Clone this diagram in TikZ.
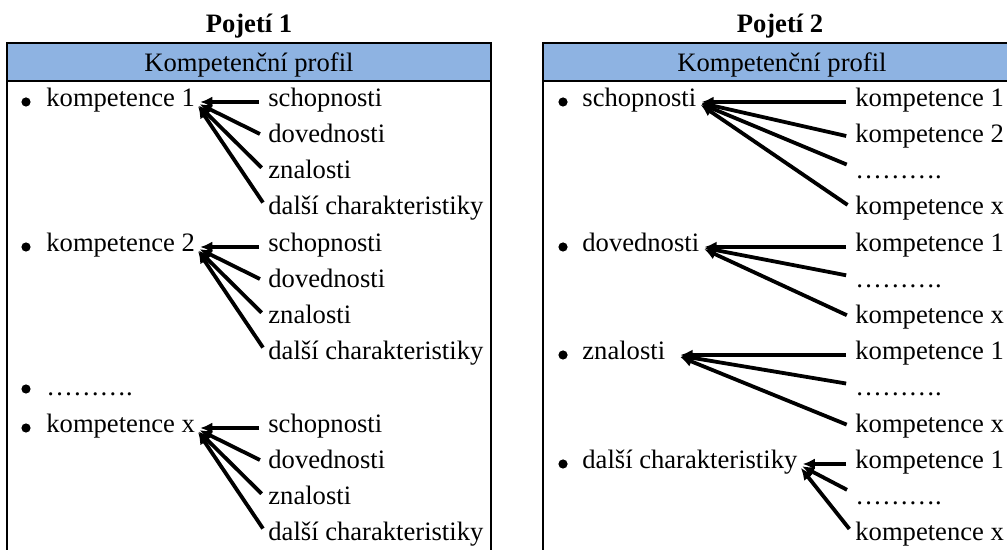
\documentclass[tikz,border=0pt]{standalone}
\usepackage{fontspec}
\setmainfont{Liberation Serif}
\usetikzlibrary{arrows.meta, positioning}

\definecolor{headblue}{RGB}{142,179,226}

\begin{document}
\begin{tikzpicture}[
    x=0.5pt, y=-0.5pt,
    font=\fontsize{13.3}{16}\selectfont,
    boxline/.style={draw, line width=1.2pt},
    heading/.style={anchor=base, font=\fontsize{13.3}{16}\selectfont\bfseries},
    item/.style={anchor=mid west, inner sep=0pt},
    dot/.style={circle, fill, inner sep=0pt, minimum size=4.6pt},
    arrow/.style={-{Latex[length=6pt,width=5.5pt]}, line width=1.9pt, shorten <=4.5pt, shorten >=2.5pt}
]
    \clip (0,0) rectangle (1007,550);

    % Pojeti 1
    \node[heading] (title1) at (249,33) {Pojetí 1};
    \draw[boxline, fill=headblue] (7,43) rectangle (491,81);
    \draw[boxline] (7,81) rectangle (491,620);
    \node[anchor=base] (head1) at (249,72) {Kompetenční profil};

    \node[dot] at (26,102) {};
    \node[item] (k1) at (46,102) {kompetence 1};
    \node[item] (k1s) at (268,102) {schopnosti};
    \node[item] (k1d) at (268,138) {dovednosti};
    \node[item] (k1z) at (268,174) {znalosti};
    \node[item] (k1c) at (268,210) {další charakteristiky};
    \draw[arrow] (k1s.mid west) -- (k1.mid east);
    \draw[arrow] (k1d.mid west) -- (k1.mid east);
    \draw[arrow] (k1z.mid west) -- (k1.mid east);
    \draw[arrow] (k1c.mid west) -- (k1.mid east);

    \node[dot] at (26,247) {};
    \node[item] (k2) at (46,247) {kompetence 2};
    \node[item] (k2s) at (268,247) {schopnosti};
    \node[item] (k2d) at (268,283) {dovednosti};
    \node[item] (k2z) at (268,319) {znalosti};
    \node[item] (k2c) at (268,355) {další charakteristiky};
    \draw[arrow] (k2s.mid west) -- (k2.mid east);
    \draw[arrow] (k2d.mid west) -- (k2.mid east);
    \draw[arrow] (k2z.mid west) -- (k2.mid east);
    \draw[arrow] (k2c.mid west) -- (k2.mid east);

    \node[dot] at (26,389) {};
    \node[item] (kdots) at (46,391) {……….};

    \node[dot] at (26,428) {};
    \node[item] (kx) at (46,428) {kompetence x};
    \node[item] (kxs) at (268,428) {schopnosti};
    \node[item] (kxd) at (268,464) {dovednosti};
    \node[item] (kxz) at (268,500) {znalosti};
    \node[item] (kxc) at (268,536) {další charakteristiky};
    \draw[arrow] (kxs.mid west) -- (kx.mid east);
    \draw[arrow] (kxd.mid west) -- (kx.mid east);
    \draw[arrow] (kxz.mid west) -- (kx.mid east);
    \draw[arrow] (kxc.mid west) -- (kx.mid east);

    % Pojeti 2
    \node[heading] (title2) at (780,33) {Pojetí 2};
    \draw[boxline, fill=headblue] (543,43) rectangle (1021,81);
    \draw[boxline] (543,81) rectangle (1021,620);
    \node[anchor=base] (head2) at (782,72) {Kompetenční profil};

    \node[dot] at (563,102) {};
    \node[item] (sch) at (582,102) {schopnosti};
    \node[item] (sch1) at (855,102) {kompetence 1};
    \node[item] (sch2) at (855,138) {kompetence 2};
    \node[item] (schd) at (855,174) {……….};
    \node[item] (schx) at (855,210) {kompetence x};
    \draw[arrow] (sch1.mid west) -- (sch.mid east);
    \draw[arrow] (sch2.mid west) -- (sch.mid east);
    \draw[arrow] ([yshift=3pt]schd.mid west) -- (sch.mid east);
    \draw[arrow] (schx.mid west) -- (sch.mid east);

    \node[dot] at (563,247) {};
    \node[item] (dov) at (582,247) {dovednosti};
    \node[item] (dov1) at (855,247) {kompetence 1};
    \node[item] (dovd) at (855,283) {……….};
    \node[item] (dovx) at (855,319) {kompetence x};
    \draw[arrow] (dov1.mid west) -- (dov.mid east);
    \draw[arrow] ([yshift=3pt]dovd.mid west) -- (dov.mid east);
    \draw[arrow] (dovx.mid west) -- (dov.mid east);

    \node[dot] at (563,355) {};
    \node[item] (zna) at (582,355) {znalosti};
    \node[item] (zna1) at (855,355) {kompetence 1};
    \node[item] (znad) at (855,391) {……….};
    \node[item] (znax) at (855,428) {kompetence x};
    \draw[arrow] (zna1.mid west) -- ([xshift=5pt]zna.mid east);
    \draw[arrow] ([yshift=3pt]znad.mid west) -- ([xshift=5pt]zna.mid east);
    \draw[arrow] (znax.mid west) -- ([xshift=5pt]zna.mid east);

    \node[dot] at (563,464) {};
    \node[item] (dal) at (582,464) {další charakteristiky};
    \node[item] (dal1) at (855,464) {kompetence 1};
    \node[item] (dald) at (855,500) {……….};
    \node[item] (dalx) at (855,536) {kompetence x};
    \draw[arrow] (dal1.mid west) -- (dal.mid east);
    \draw[arrow] ([yshift=3pt]dald.mid west) -- (dal.mid east);
    \draw[arrow] (dalx.mid west) -- (dal.mid east);

\end{tikzpicture}
\end{document}
